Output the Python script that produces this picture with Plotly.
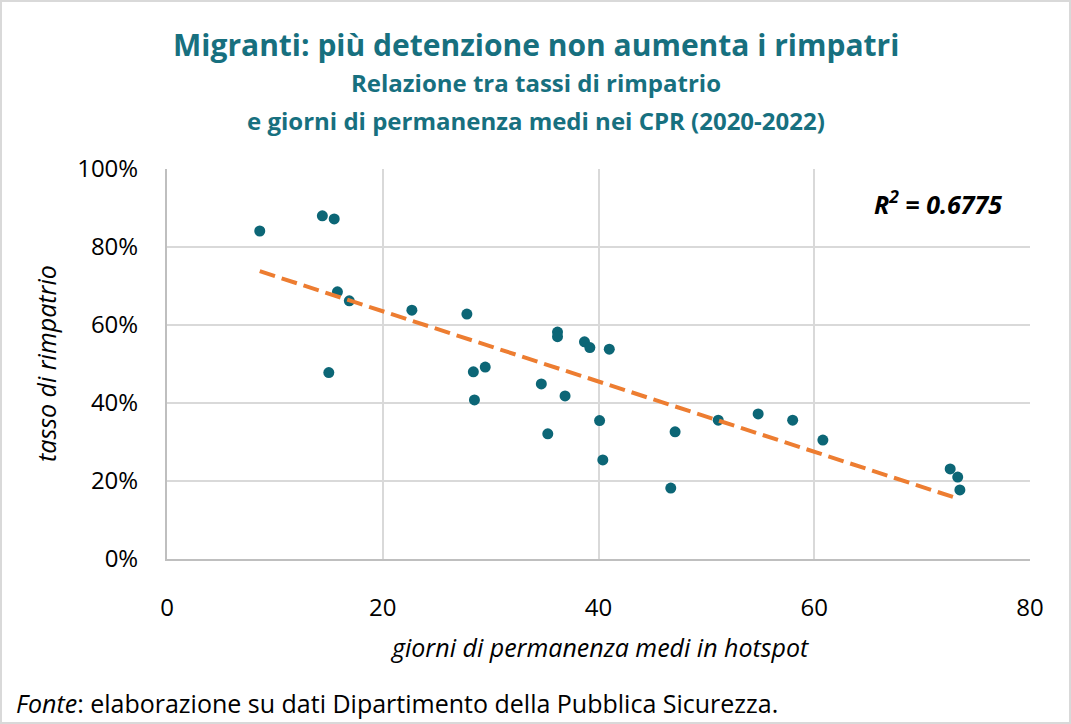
import plotly.graph_objects as go

# giorni di permanenza medi (x) e tasso di rimpatrio (y)
giorni = [8.6, 14.4, 15.5, 15.8, 16.9, 15.0, 22.7, 27.8, 28.4, 29.5,
          28.5, 36.2, 36.2, 38.7, 39.2, 41.0, 34.7, 36.9, 35.3, 40.1,
          40.4, 47.1, 46.7, 51.1, 54.8, 58.0, 60.8, 72.6, 73.3, 73.5]
tasso = [0.841, 0.880, 0.872, 0.685, 0.662, 0.478, 0.638, 0.628, 0.480, 0.492,
         0.408, 0.582, 0.570, 0.557, 0.542, 0.538, 0.449, 0.418, 0.321, 0.355,
         0.254, 0.326, 0.182, 0.356, 0.372, 0.356, 0.305, 0.231, 0.210, 0.177]

# linea di tendenza (estremi)
trend_x = [8.6, 73.2]
trend_y = [0.738, 0.156]
r2_text = "R<sup>2</sup> = 0.6775"

TEAL = "#0c6676"
TITLE = "#17707f"
ORANGE = "#ed7d31"
GRID = "#d9d9d9"
FONT = "Open Sans"

fig = go.Figure()
fig.add_trace(go.Scatter(
    x=giorni, y=tasso, mode="markers",
    marker=dict(color=TEAL, size=11),
    showlegend=False,
))
fig.add_trace(go.Scatter(
    x=trend_x, y=trend_y, mode="lines",
    line=dict(color=ORANGE, width=4, dash="16px,7px"),
    showlegend=False,
))

ML, MR, MT, MB = 167, 41, 169, 165
W, H = 1071, 724
pw, ph = W - ML - MR, H - MT - MB


def px(p):
    return (p - ML) / pw


def py(q):
    return (H - MB - q) / ph


def label(text, x, y, size, color="#000000", xanchor="center", angle=0):
    return dict(text=text, xref="paper", yref="paper", x=px(x), y=py(y),
                xanchor=xanchor, yanchor="middle", textangle=angle,
                showarrow=False, font=dict(size=size, color=color))


fig.update_layout(
    width=W, height=H,
    margin=dict(l=ML, r=MR, t=MT, b=MB),
    paper_bgcolor="white", plot_bgcolor="white",
    font=dict(family=FONT, color="#000000", size=24),
    xaxis=dict(range=[0, 80], dtick=20, showgrid=True, gridcolor=GRID, gridwidth=2,
               showline=True, linecolor="#bfbfbf", linewidth=2, zeroline=False,
               ticks="", ticklabelstandoff=26, tickfont=dict(size=24)),
    yaxis=dict(range=[0, 1], dtick=0.2, tickformat=".0%", showgrid=True,
               gridcolor=GRID, gridwidth=2, showline=True, linecolor="#bfbfbf",
               linewidth=2, zeroline=False, ticks="", ticklabelstandoff=22,
               tickfont=dict(size=24)),
    shapes=[dict(type="rect", xref="paper", yref="paper",
                 x0=px(1), x1=px(1070), y0=py(723), y1=py(1),
                 line=dict(color="#d9d9d9", width=2))],
    annotations=[
        label("<b>Migranti: più detenzione non aumenta i rimpatri</b>", 536, 44, 30, TITLE),
        label("<b>Relazione tra tassi di rimpatrio</b>", 536, 83, 24, TITLE),
        label("<b>e giorni di permanenza medi nei CPR (2020-2022)</b>", 536, 120, 24, TITLE),
        label("<i>tasso di rimpatrio</i>", 46, 364, 25, angle=-90),
        label("<i>giorni di permanenza medi in hotspot</i>", 599, 647, 25),
        label("<i>Fonte</i>: elaborazione su dati Dipartimento della Pubblica Sicurezza.",
              14, 703, 25, xanchor="left"),
        label("<b><i>" + r2_text + "</i></b>", 1004, 202, 25, xanchor="right"),
    ],
)

fig.write_html("out.html", config={"displayModeBar": False},
               post_script="document.body.style.margin='0px';")
